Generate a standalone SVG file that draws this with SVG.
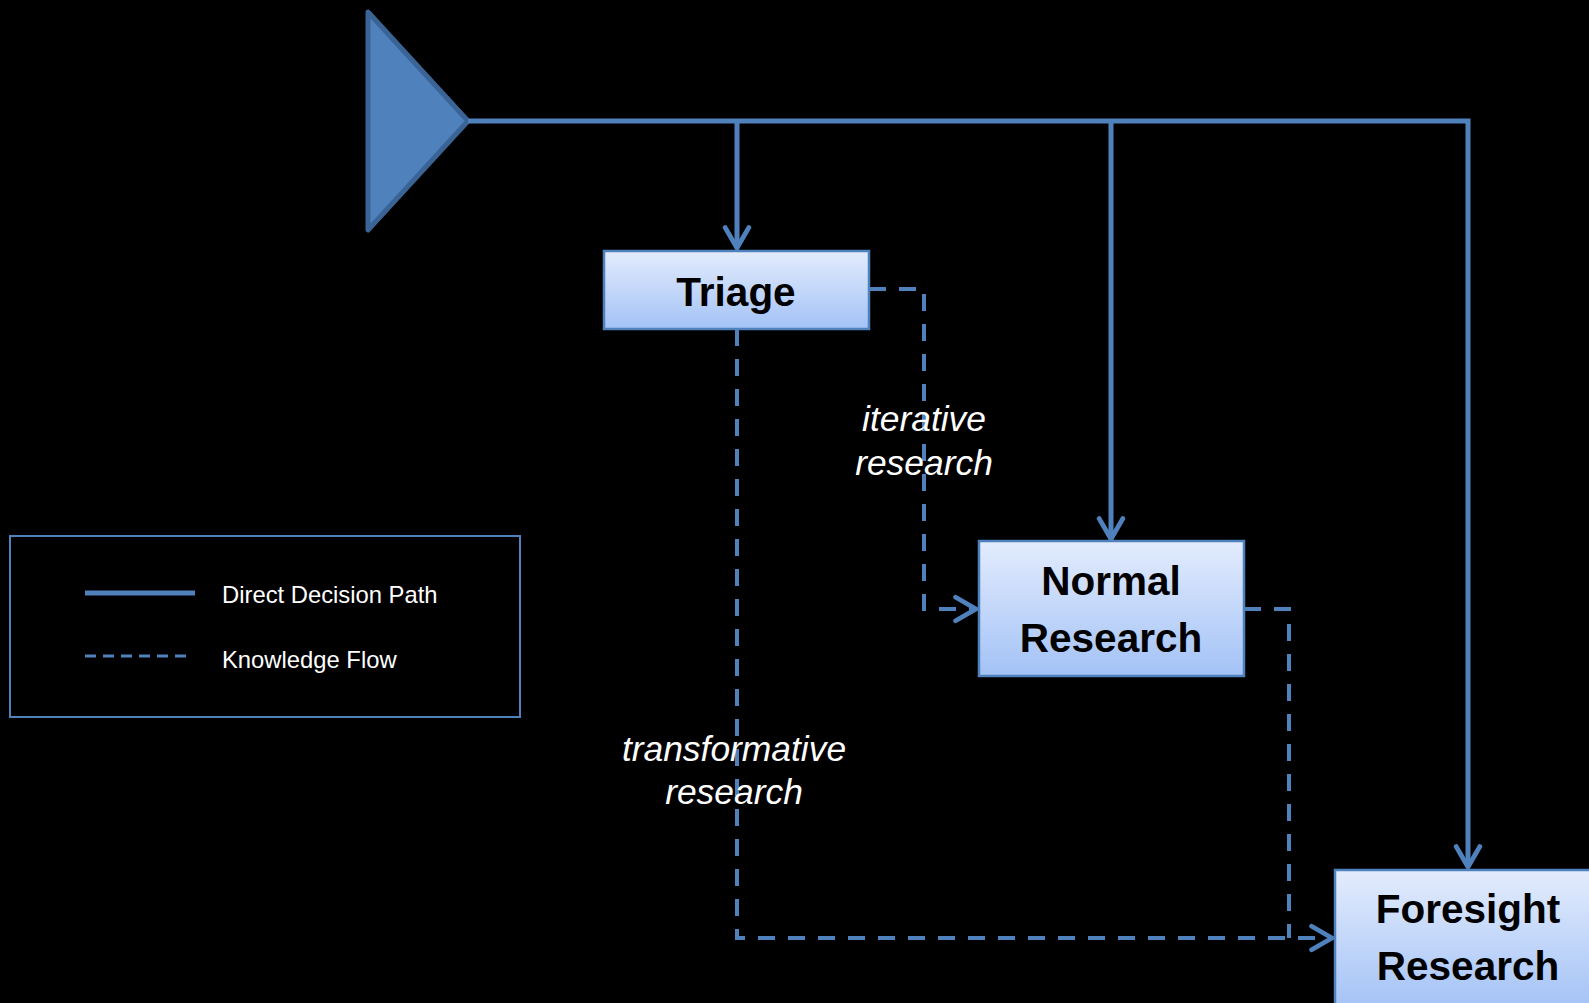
<svg xmlns="http://www.w3.org/2000/svg" width="1589" height="1003" viewBox="0 0 1589 1003">
<style>
.solid{fill:none;stroke:#4F81BD;stroke-width:5}
.dash{fill:none;stroke:#4F81BD;stroke-width:4;stroke-dasharray:17 13}
.box{fill:url(#g);stroke:#4F81BD;stroke-width:2.5}
.nt{font-family:"Liberation Sans",Arial,sans-serif;font-weight:bold;font-size:40.5px;fill:#000;text-anchor:middle}
.lab{font-family:"Liberation Sans",Arial,sans-serif;font-style:italic;font-size:35.4px;fill:#fff;text-anchor:middle}
.leg{font-family:"Liberation Sans",Arial,sans-serif;font-size:23.8px;fill:#fff}
</style>
<defs>
<linearGradient id="g" x1="0" y1="0" x2="0" y2="1">
<stop offset="0" stop-color="#E3ECFD"/>
<stop offset="1" stop-color="#A3C2F6"/>
</linearGradient>
<marker id="ah" markerUnits="userSpaceOnUse" markerWidth="30" markerHeight="30" viewBox="-22 -14 26 28" refX="0" refY="0" orient="auto">
<path d="M-19,-11 L0,0 L-19,11" fill="none" stroke="#4F81BD" stroke-width="4.5" stroke-linecap="round" stroke-linejoin="round"/>
</marker>
</defs>
<rect x="0" y="0" width="1589" height="1003" fill="#000"/>
<g id="source">
<polygon points="368,12 468,121 368,230" fill="#4F81BD" stroke="#3B6496" stroke-width="5" stroke-linejoin="round"/>
</g>
<g id="connectors">
<path class="solid" d="M468,121 H1468 V867" marker-end="url(#ah)"/>
<path class="solid" d="M737,121 V248" marker-end="url(#ah)"/>
<path class="solid" d="M1111,121 V539" marker-end="url(#ah)"/>
<path class="dash" d="M869,289 H924 V609 H976" marker-end="url(#ah)"/>
<path class="dash" d="M737,329 V938 H1332" marker-end="url(#ah)"/>
<path class="dash" d="M1244,609 H1289 V938"/>
</g>
<g id="triage">
<rect class="box" x="604" y="251" width="265" height="78"/>
<text class="nt" x="736" y="306">Triage</text>
</g>
<g id="normal">
<rect class="box" x="979" y="541" width="265" height="135"/>
<text class="nt" x="1111" y="595">Normal</text>
<text class="nt" x="1111" y="652">Research</text>
</g>
<g id="foresight">
<rect class="box" x="1335" y="870" width="266" height="140"/>
<text class="nt" x="1468" y="923">Foresight</text>
<text class="nt" x="1468" y="980">Research</text>
</g>
<g id="labels">
<text class="lab" x="924" y="431">iterative</text>
<text class="lab" x="924" y="475">research</text>
<text class="lab" x="734" y="761">transformative</text>
<text class="lab" x="734" y="804">research</text>
</g>
<g id="legend">
<rect x="10" y="536" width="510" height="181" fill="none" stroke="#4F81BD" stroke-width="2"/>
<line x1="85" y1="593" x2="195" y2="593" stroke="#4F81BD" stroke-width="5"/>
<line x1="85" y1="656" x2="190" y2="656" stroke="#4F81BD" stroke-width="3" stroke-dasharray="11 7"/>
<text class="leg" x="222" y="603">Direct Decision Path</text>
<text class="leg" x="222" y="668">Knowledge Flow</text>
</g>
</svg>
